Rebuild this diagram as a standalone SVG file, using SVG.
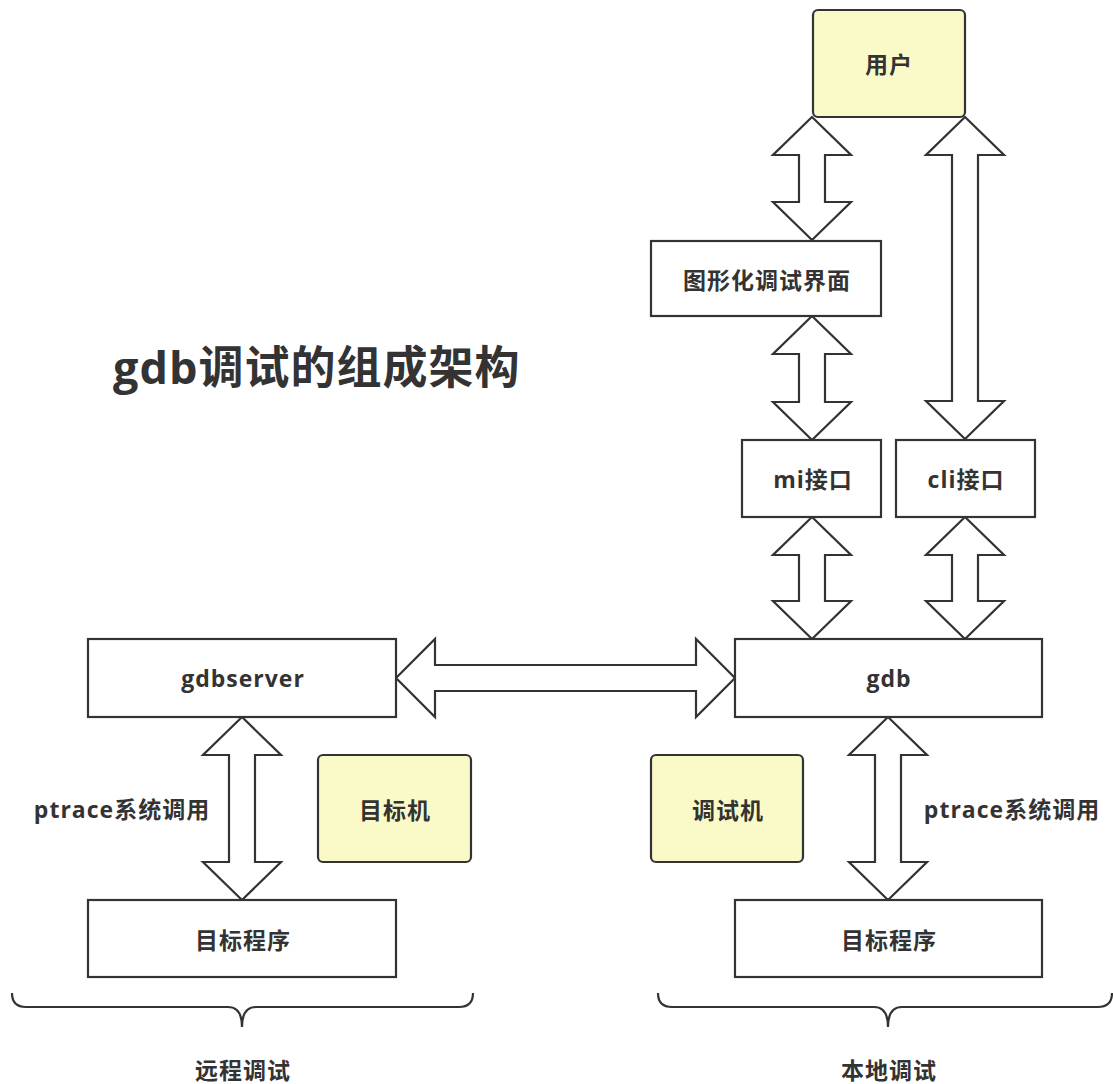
<svg xmlns="http://www.w3.org/2000/svg" width="1113" height="1084" viewBox="0 0 1113 1084">
<style>
.box{fill:#fff;stroke:#333;stroke-width:2.2}
.note{fill:#fafac8;stroke:#333;stroke-width:2.2}
.arr{fill:#fff;stroke:#333;stroke-width:2.2;stroke-linejoin:miter}
.brace{fill:none;stroke:#333;stroke-width:2.2}
text{font-family:"Open Sans","Noto Sans CJK SC",sans-serif;font-weight:bold;fill:#333;text-anchor:middle;dominant-baseline:central;font-size:23px;letter-spacing:1px}
.title{font-size:45px;text-anchor:start}
</style>
<rect width="1113" height="1084" fill="#fff"/>
<text class="title" x="113" y="366">gdb调试的组成架构</text>
<g id="connectors">
<path class="arr" d="M812,117 L851,155 L825,155 L825,202 L851,202 L812,240 L773,202 L799,202 L799,155 L773,155 Z"/>
<path class="arr" d="M965,117 L1004,155 L978,155 L978,401 L1004,401 L965,439 L926,401 L952,401 L952,155 L926,155 Z"/>
<path class="arr" d="M812,316 L851,354 L825,354 L825,402 L851,402 L812,440 L773,402 L799,402 L799,354 L773,354 Z"/>
<path class="arr" d="M812,517 L851,555 L825,555 L825,601 L851,601 L812,639 L773,601 L799,601 L799,555 L773,555 Z"/>
<path class="arr" d="M965,517 L1004,555 L978,555 L978,601 L1004,601 L965,639 L926,601 L952,601 L952,555 L926,555 Z"/>
<path class="arr" d="M396,678 L435,639 L435,665 L696,665 L696,639 L735,678 L696,717 L696,691 L435,691 L435,717 Z"/>
<path class="arr" d="M242,717 L281,755 L255,755 L255,862 L281,862 L242,900 L203,862 L229,862 L229,755 L203,755 Z"/>
<path class="arr" d="M888,717 L927,755 L901,755 L901,862 L927,862 L888,900 L849,862 L875,862 L875,755 L849,755 Z"/>
<text x="122" y="809">ptrace系统调用</text>
<text x="1012" y="809">ptrace系统调用</text>
</g>
<g id="user"><rect class="note" x="813" y="10" width="152" height="107" rx="5"/><text x="889" y="64">用户</text></g>
<g id="gui"><rect class="box" x="651" y="241" width="230" height="75"/><text x="767" y="280">图形化调试界面</text></g>
<g id="mi"><rect class="box" x="742" y="440" width="139" height="77"/><text x="813" y="479">mi接口</text></g>
<g id="cli"><rect class="box" x="896" y="440" width="139" height="77"/><text x="966" y="479">cli接口</text></g>
<g id="gdbserver"><rect class="box" x="88" y="639" width="308" height="78"/><text x="243" y="678">gdbserver</text></g>
<g id="gdb"><rect class="box" x="735" y="639" width="307" height="78"/><text x="889" y="678">gdb</text></g>
<g id="target-remote"><rect class="box" x="88" y="900" width="308" height="77"/><text x="243" y="940">目标程序</text></g>
<g id="target-local"><rect class="box" x="735" y="900" width="307" height="77"/><text x="889" y="940">目标程序</text></g>
<g id="target-machine"><rect class="note" x="318" y="755" width="153" height="107" rx="5"/><text x="395" y="810">目标机</text></g>
<g id="debug-machine"><rect class="note" x="651" y="755" width="152" height="107" rx="5"/><text x="728" y="810">调试机</text></g>
<g id="remote-brace">
<path class="brace" d="M12,993 Q12,1007 26,1007 L228,1007 Q242,1007 242,1027 Q242,1007 256,1007 L459,1007 Q473,1007 473,993"/>
<text x="243" y="1070">远程调试</text>
</g>
<g id="local-brace">
<path class="brace" d="M658,993 Q658,1007 672,1007 L874,1007 Q888,1007 888,1027 Q888,1007 902,1007 L1098,1007 Q1112,1007 1112,993"/>
<text x="889" y="1070">本地调试</text>
</g>
</svg>
